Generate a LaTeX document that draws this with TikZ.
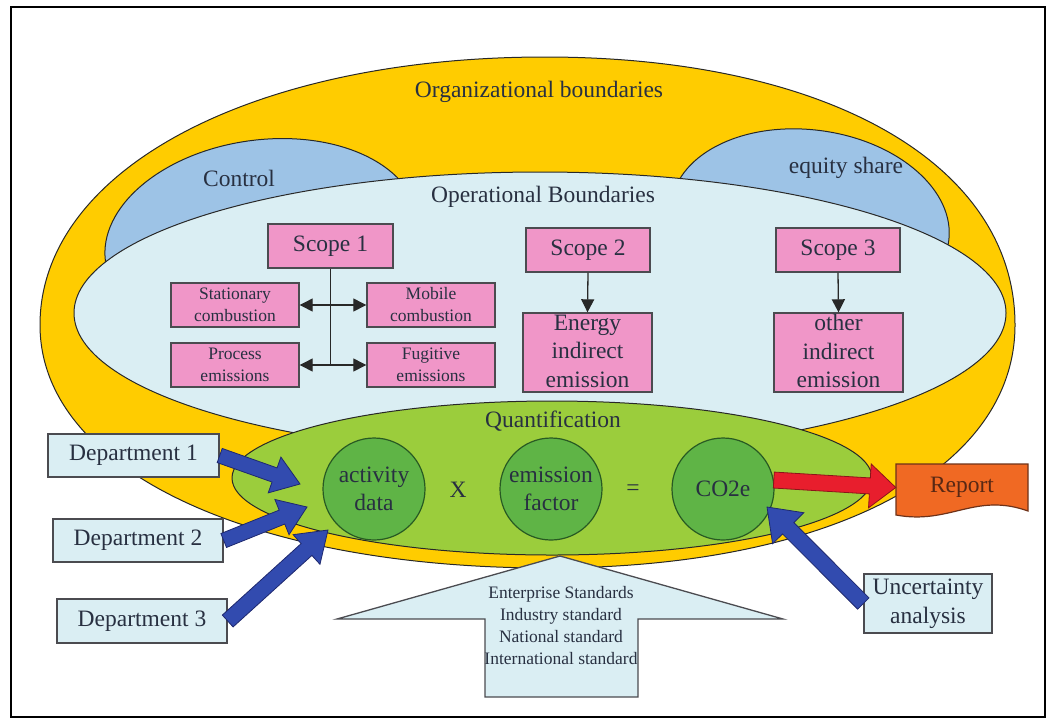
\documentclass[tikz,border=0pt]{standalone}
\usepackage{fontspec}
\setmainfont{Liberation Serif}
\usetikzlibrary{calc,arrows.meta}

\definecolor{orgyellow}{RGB}{255,204,0}
\definecolor{ctrlblue}{RGB}{157,195,230}
\definecolor{opblue}{RGB}{218,238,243}
\definecolor{pinkfill}{RGB}{240,150,200}
\definecolor{quantgreen}{RGB}{155,205,60}
\definecolor{circgreen}{RGB}{95,180,70}
\definecolor{circedge}{RGB}{40,90,35}
\definecolor{arrowblue}{RGB}{50,75,175}
\definecolor{arrowedge}{RGB}{30,40,110}
\definecolor{redarrow}{RGB}{232,30,45}
\definecolor{rededge}{RGB}{140,20,25}
\definecolor{reportorange}{RGB}{240,105,35}
\definecolor{reportedge}{RGB}{110,50,25}
\definecolor{textcol}{RGB}{40,48,65}
\definecolor{boxedge}{RGB}{75,75,80}
\definecolor{lineedge}{RGB}{40,40,40}

% block arrow: style, from, to, half shaft width, half head width, head length
\newcommand\fatarrow[6]{%
  \coordinate (fa-h) at ($(#3)!#6!(#2)$);
  \path[#1] ($(#2)!#4!90:(#3)$) -- ($(fa-h)!#4!90:(#3)$) -- ($(fa-h)!#5!90:(#3)$)
    -- (#3) -- ($(fa-h)!#5!-90:(#3)$) -- ($(fa-h)!#4!-90:(#3)$)
    -- ($(#2)!#4!-90:(#3)$) -- cycle;}

\tikzset{
  ell/.style={draw=lineedge, line width=1pt},
  big/.style={text=textcol, font=\fontsize{23.5}{28.5}\selectfont, inner sep=0pt, align=center},
  small/.style={text=textcol, font=\fontsize{17.5}{22}\selectfont, inner sep=0pt, align=center},
  pinkbox/.style={draw=boxedge, line width=1.4pt, fill=pinkfill, inner sep=0pt,
    minimum width=128pt, minimum height=44pt},
  deptbox/.style={big, draw=boxedge, line width=1.4pt, fill=opblue,
    minimum width=170pt, minimum height=43pt},
  circ/.style={big, circle, draw=circedge, line width=1.2pt, fill=circgreen, minimum size=102pt},
  conn/.style={draw=lineedge, line width=1.3pt},
  tip/.style={-{Triangle[length=13pt,width=13pt]}},
  bluearrow/.style={fill=arrowblue, draw=arrowedge, line width=0.8pt},
  redblock/.style={fill=redarrow, draw=rededge, line width=0.8pt},
}

\begin{document}
\begin{tikzpicture}[x=1pt,y=-1pt]
\useasboundingbox (0,0) rectangle (1056,724);
\draw[line width=1.5pt] (11,7) rectangle (1045,717);

% organizational boundary (flattened at the bottom)
\path[ell, fill=orgyellow] (545,57)
  .. controls (827,57) and (1015,164) .. (1015,325)
  .. controls (1015,471) and (828,568) .. (548,568)
  .. controls (253,568) and (40,471) .. (40,325)
  .. controls (40,170) and (252,57) .. (545,57) -- cycle;
\draw[ell, fill=ctrlblue, rotate around={8:(262,240)}] (262,240) ellipse [x radius=158, y radius=100];
\draw[ell, fill=ctrlblue, rotate around={-8:(810,222)}] (810,222) ellipse [x radius=140, y radius=92];
\draw[ell, fill=opblue] (540,313) ellipse [x radius=466, y radius=141];
\draw[ell, fill=quantgreen] (552,478) ellipse [x radius=320, y radius=77];

\node[big] (orgl) at (539,92) {Organizational boundaries};
\node[big] (ctrl) at (239,178) {Control};
\node[big] (eq) at (846,168) {equity share};
\node[big] (opl) at (543,197) {Operational Boundaries};
\node[big] (ql) at (553,421) {Quantification};

% scope 1
\node[pinkbox, big, minimum width=125pt] (s1) at (330.5,246) {Scope 1};
\node[pinkbox, small] (sc) at (235,305) {Stationary\\combustion};
\node[pinkbox, small] (mc) at (431,305) {Mobile\\combustion};
\node[pinkbox, small] (pe) at (235,365) {Process\\emissions};
\node[pinkbox, small] (fe) at (431,365) {Fugitive\\emissions};
\coordinate (j1) at (s1.south |- sc.east);
\coordinate (j2) at (s1.south |- pe.east);
\draw[conn] (s1.south) -- (j2);
\draw[conn, tip] (j1) -- (sc.east);
\draw[conn, tip] (j1) -- (mc.west);
\draw[conn, tip] (j2) -- (pe.east);
\draw[conn, tip] (j2) -- (fe.west);

% scope 2 and 3
\node[pinkbox, big, minimum width=124pt] (s2) at (588,250) {Scope 2};
\node[pinkbox, minimum width=129pt, minimum height=79pt] (e2) at (587.5,352.5) {};
\node[big] (e2t) at (587.5,351) {Energy\\indirect\\emission};
\node[pinkbox, big, minimum width=124pt] (s3) at (838,250) {Scope 3};
\node[pinkbox, minimum width=129pt, minimum height=79pt] (e3) at (838.5,352.5) {};
\node[big] (e3t) at (838.5,351) {other\\indirect\\emission};
\draw[conn, tip] (s2.south) -- (e2.north);
\draw[conn, tip] (s3.south) -- (e3.north);

% quantification
\node[circ] (ad) at (374,489) {activity\\data};
\node[big] (times) at (458,490) {X};
\node[circ] (ef) at (551,489) {emission\\factor};
\node[big] (eqs) at (633,490) {=};
\node[circ] (co) at (723,489) {CO2e};

% report
\path[fill=reportorange, draw=reportedge, line width=1.2pt]
  (896,464) -- (1028,464) -- (1028,511)
  .. controls (975,492) and (950,525) .. (896,515) -- cycle;
\node[big, text=reportedge!80!black, minimum width=132pt, minimum height=47pt] (rep) at (962,487.5) {Report};

% departments and uncertainty
\node[deptbox, minimum width=171pt] (d1) at (133.5,455.5) {Department 1};
\node[deptbox] (d2) at (138,540.5) {Department 2};
\node[deptbox, minimum height=44pt] (d3) at (142,621) {Department 3};
\node[deptbox, minimum width=128pt, minimum height=59pt] (un) at (928,603.5) {Uncertainty\\analysis};

\coordinate (t1) at (300,484);
\coordinate (t2) at (307,507);
\coordinate (t3) at (328,530);
\coordinate (t4) at (767,507);
\fatarrow{bluearrow}{d1.east}{t1}{7.5pt}{19pt}{27pt}
\fatarrow{bluearrow}{d2.east}{t2}{7.5pt}{19pt}{27pt}
\fatarrow{bluearrow}{d3.east}{t3}{8pt}{20pt}{29pt}
\fatarrow{bluearrow}{un.west}{t4}{8pt}{22pt}{30pt}
\fatarrow{redblock}{co.10}{rep.west}{8pt}{22pt}{26pt}

% standards arrow
\path[fill=opblue] (560,556) -- (783,619) -- (638,619) -- (638,697)
  -- (485,697) -- (485,619) -- (337,619) -- cycle;
\node[small, font=\fontsize{17.5}{21.7}\selectfont] (std) at (561,625.5)
  {Enterprise Standards\\Industry standard\\National standard\\International standard};
\draw[draw=boxedge, line width=1.3pt] (560,556) -- (783,619) -- (638,619) -- (638,697)
  -- (485,697) -- (485,619) -- (337,619) -- cycle;
\end{tikzpicture}
\end{document}
